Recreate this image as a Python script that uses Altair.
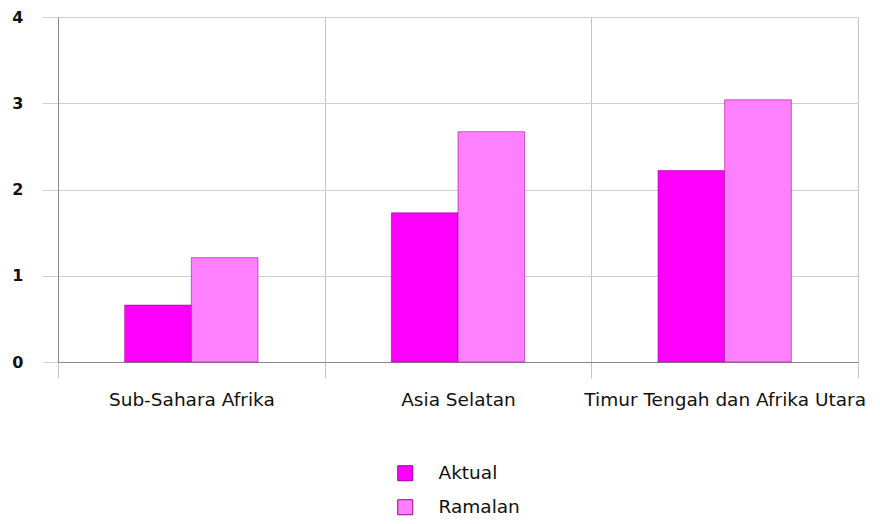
import altair as alt
import pandas as pd

categories = ["Sub-Sahara Afrika", "Asia Selatan", "Timur Tengah dan Afrika Utara"]
series = ["Aktual", "Ramalan"]
aktual = [0.66, 1.73, 2.22]
ramalan = [1.21, 2.67, 3.04]
colors = ["#FF00FF", "#FF80FF"]
y_ticks = [0, 1, 2, 3, 4]

rows = []
for c, a, r in zip(categories, aktual, ramalan):
    rows.append({"kategori": c, "seri": "Aktual", "nilai": a})
    rows.append({"kategori": c, "seri": "Ramalan", "nilai": r})
df = pd.DataFrame(rows)

FONT = "DejaVu Sans"

chart = alt.Chart(df).mark_bar(
    stroke="#990099", strokeWidth=1, strokeOpacity=0.55
).encode(
    x=alt.X(
        "kategori:N", sort=categories, title=None,
        scale=alt.Scale(paddingInner=0, paddingOuter=0),
        axis=alt.Axis(
            labelAngle=0, tickBand="extent", grid=True, gridColor="#c4c4c4",
            tickSize=16, tickColor="#c4c4c4", domainColor="#888888",
            labelFont=FONT, labelFontSize=18.5, labelPadding=12, labelColor="#111111",
            labelLimit=400,
        ),
    ),
    xOffset=alt.XOffset(
        "seri:N", sort=series,
        scale=alt.Scale(paddingInner=0, paddingOuter=1),
    ),
    y=alt.Y(
        "nilai:Q", title=None,
        scale=alt.Scale(domain=[0, 4], nice=False),
        axis=alt.Axis(
            values=y_ticks, grid=True, gridColor="#d0d0d0", tickSize=16,
            tickColor="#d0d0d0", domainColor="#888888",
            labelFont=FONT, labelFontSize=16, labelFontWeight="bold",
            labelPadding=19, labelColor="#111111",
        ),
    ),
    color=alt.Color(
        "seri:N",
        scale=alt.Scale(domain=series, range=colors),
        legend=alt.Legend(
            title=None, orient="none", legendX=338, legendY=447,
            direction="vertical", symbolType="square", symbolSize=225,
            symbolStrokeColor="#990099", symbolStrokeWidth=1,
            labelFont=FONT, labelFontSize=18.5, labelColor="#111111",
            labelOffset=24, rowPadding=14, padding=0,
        ),
    ),
).properties(
    width=800, height=345,
    autosize=alt.AutoSizeParams(type="none"),
    padding={"left": 50, "top": 9, "right": 14, "bottom": 154},
).configure_view(stroke=None)

chart.save("out.html", embed_options={"renderer": "svg", "actions": False})
